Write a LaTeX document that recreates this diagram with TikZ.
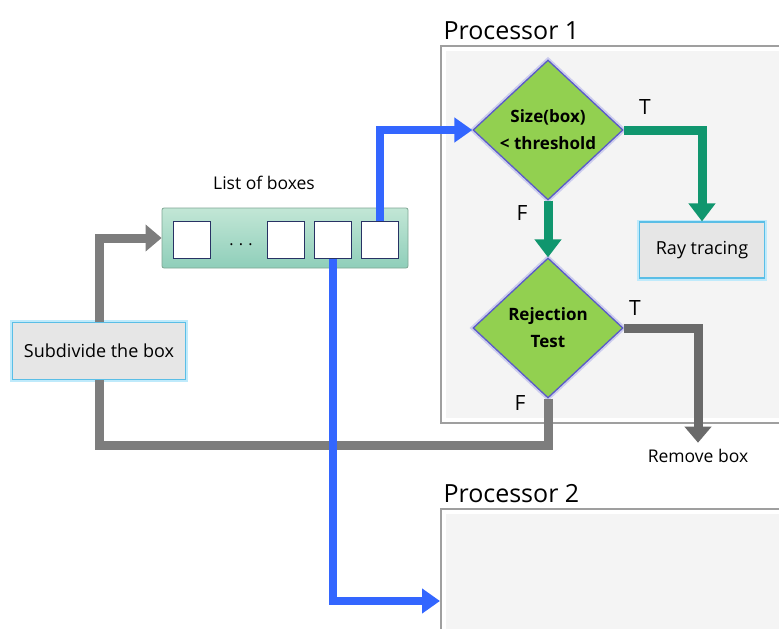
\documentclass[tikz,border=0pt]{standalone}
\usepackage{fontspec}
\setmainfont{Open Sans}
\usepackage{tikz}
\usetikzlibrary{shapes.geometric,arrows.meta,positioning,calc}
\definecolor{flowblue}{RGB}{51, 102, 255}
\definecolor{flowgreen}{RGB}{16, 150, 110}
\definecolor{flowgray}{RGB}{125, 125, 125}
\definecolor{testgreen}{RGB}{146, 208, 80}
\definecolor{testedge}{RGB}{90, 90, 200}
\definecolor{boxfill}{RGB}{230, 230, 230}
\definecolor{boxedge}{RGB}{90, 190, 230}
\definecolor{listfill}{RGB}{168, 220, 196}
\definecolor{cellnavy}{RGB}{40, 50, 100}

\begin{document}
\begin{tikzpicture}[x=1pt, y=-1pt,
    test/.style={diamond, draw=testedge, line width=1.3pt, fill=testgreen,
        preaction={draw=testedge!30, line width=5pt},
        minimum width=150pt, minimum height=140pt, inner sep=0pt,
        align=center, font=\fontsize{17}{27}\selectfont\bfseries},
    action/.style={rectangle, draw=boxedge, line width=1.2pt, fill=boxfill,
        preaction={draw=cyan!25, line width=5pt}, font=\fontsize{18}{21}\selectfont},
    cell/.style={rectangle, draw=cellnavy, line width=1.2pt, fill=white, minimum size=37pt},
    proc/.style={rectangle, draw=gray!75, line width=2pt, fill=white, anchor=north west},
    tf/.style={font=\fontsize{21}{24}\selectfont},
    blueflow/.style={draw=flowblue, line width=8pt, -{Triangle[width=24pt,length=18pt]}},
    greenflow/.style={draw=flowgreen, line width=9pt, -{Triangle[width=26pt,length=18pt]}},
    grayflow/.style={draw=flowgray, line width=9pt}]
\useasboundingbox (0,0) rectangle (779,629);
% Processor frames
\node[proc, minimum width=360pt, minimum height=377pt] (proc1) at (440,45) {};
\fill[gray!9] ($(proc1.north west)+(6pt,-6pt)$) rectangle ($(proc1.south east)+(-6pt,6pt)$);
\node[font=\fontsize{25}{28}\selectfont, anchor=south west] (p1label) at (440,43) {Processor 1};
\node[proc, minimum width=360pt, minimum height=184pt] (proc2) at (440,508) {};
\fill[gray!9] ($(proc2.north west)+(6pt,-6pt)$) rectangle ($(proc2.south east)+(-6pt,6pt)$);
\node[font=\fontsize{25}{28}\selectfont, anchor=south west] (p2label) at (440,506) {Processor 2};
% List of boxes
\node[rectangle, rounded corners=2pt, draw=listfill!75!black, line width=0.8pt,
    top color=listfill!70!white, bottom color=listfill!85!teal,
    minimum width=246pt, minimum height=60pt] (list) at (285,238) {};
\node[font=\fontsize{17.5}{20}\selectfont] (listlabel) at (264,183) {List of boxes};
\foreach \x/\name in {192/b1, 286/b3, 333/b4, 380/b5} {
    \node[cell] at (\x,240) (\name) {};
}
\node[font=\fontsize{16}{18}\selectfont] (dots) at (241,245) {.\,\,.\,\,.};
% Decisions and actions
\node[test] (size) at (548,130) {Size(box)\\< threshold};
\node[test] (rej) at (548,328) {Rejection\\Test};
\node[action, minimum width=125pt, minimum height=56pt] (ray) at (702,250) {Ray tracing};
\node[action, minimum width=173pt, minimum height=57pt] (sub) at (99,351) {Subdivide the box};
\node[font=\fontsize{17.5}{20}\selectfont] (remove) at (698,456) {Remove box};
% Draw connections
\draw[greenflow] (size.east) -| (ray.north);
\draw[greenflow] (size.south) -- (rej.north);
\draw[grayflow, flowgray!85!black, -{Triangle[width=26pt,length=16pt]}, shorten >=3pt] (rej.east) -| (remove.north);
\draw[grayflow] (rej.south) -- ++(0,47) -| (sub.south);
\draw[grayflow, -{Triangle[width=26pt,length=16pt]}] (sub.north) |- (list.west);
\draw[blueflow] (b5.north) |- (size.west);
\draw[blueflow] (b4.south) |- (proc2.west);
% Labels
\node[tf] (t1) at (645,107) {T};
\node[tf] (f1) at (522,213) {F};
\node[tf] (t2) at (635,308) {T};
\node[tf] (f2) at (520,403) {F};
\end{tikzpicture}
\end{document}
